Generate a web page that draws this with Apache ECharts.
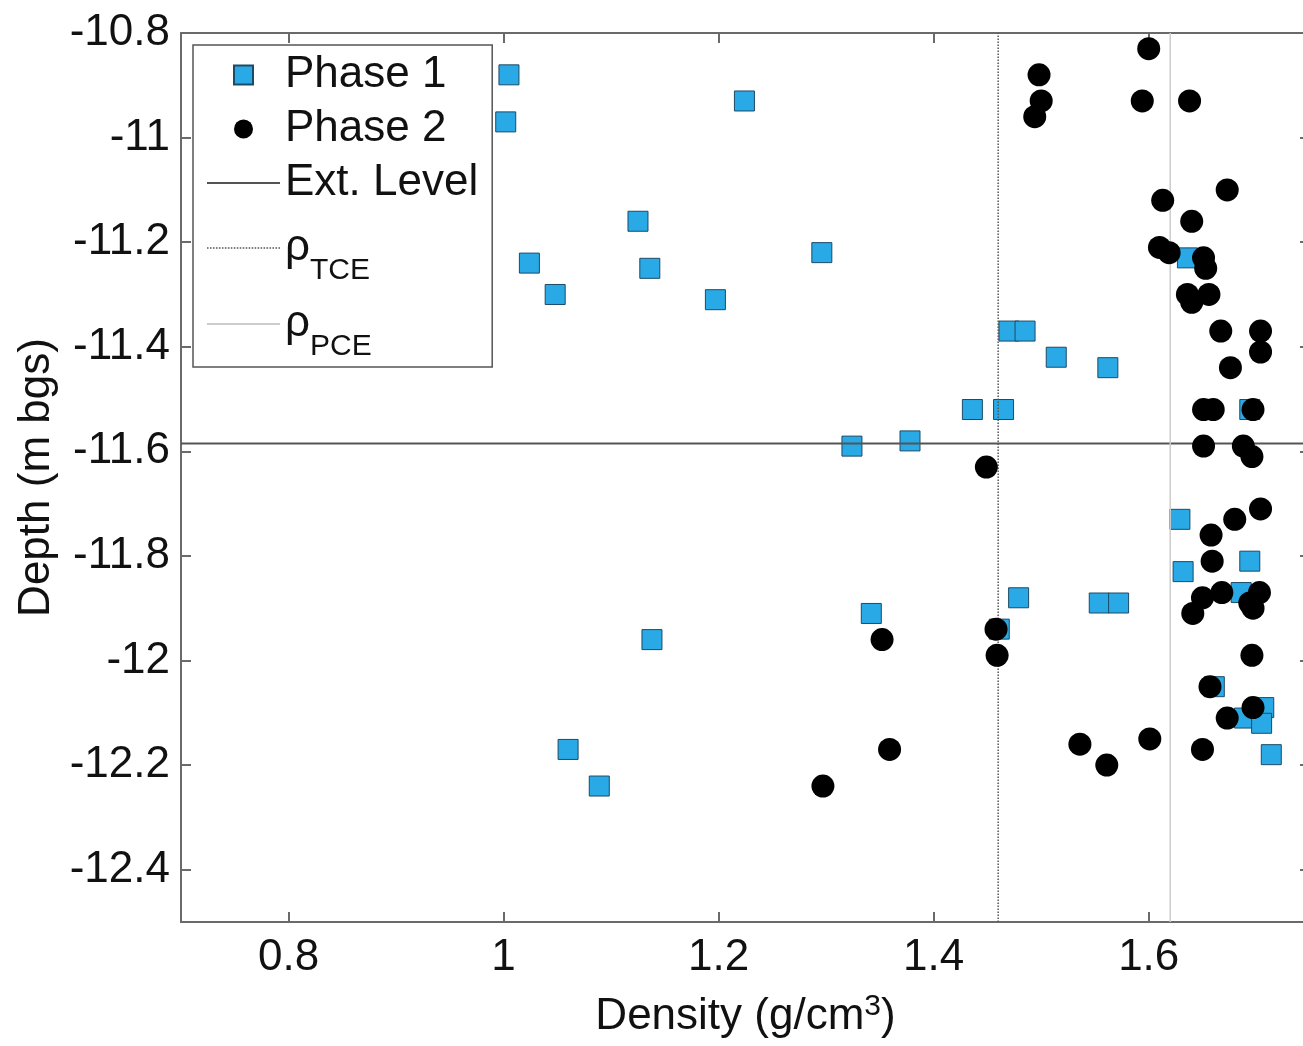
<!DOCTYPE html>
<html><head><meta charset="utf-8">
<script src="https://cdn.jsdelivr.net/npm/echarts@6/dist/echarts.min.js"></script>
<style>html,body{margin:0;padding:0;background:#fff}#c{width:1303px;height:1046px}</style>
</head><body><div id="c"></div>
<script>
// ---- data ----
const phase1 = [
  [1.005,-10.88],[1.002,-10.97],[1.224,-10.93],[1.125,-11.16],[1.024,-11.24],[1.136,-11.25],
  [1.048,-11.30],[1.296,-11.22],[1.197,-11.31],[1.636,-11.23],[1.470,-11.37],[1.485,-11.37],
  [1.514,-11.42],[1.562,-11.44],[1.436,-11.52],[1.465,-11.52],[1.694,-11.52],[1.324,-11.59],
  [1.378,-11.58],[1.629,-11.73],[1.632,-11.83],[1.694,-11.81],[1.686,-11.87],[1.479,-11.88],
  [1.554,-11.89],[1.572,-11.89],[1.342,-11.91],[1.138,-11.96],[1.461,-11.94],[1.661,-12.05],
  [1.689,-12.11],[1.707,-12.09],[1.705,-12.12],[1.714,-12.18],[1.060,-12.17],[1.089,-12.24]
];
const phase2 = [
  [1.600,-10.83],[1.594,-10.93],[1.638,-10.93],[1.498,-10.88],[1.500,-10.93],[1.494,-10.96],
  [1.673,-11.10],[1.613,-11.12],[1.640,-11.16],[1.610,-11.21],[1.619,-11.22],[1.651,-11.23],
  [1.653,-11.25],[1.636,-11.30],[1.640,-11.315],[1.656,-11.30],[1.667,-11.37],[1.704,-11.37],
  [1.704,-11.41],[1.676,-11.44],[1.651,-11.52],[1.660,-11.52],[1.697,-11.52],[1.651,-11.59],
  [1.688,-11.59],[1.696,-11.61],[1.449,-11.63],[1.704,-11.71],[1.680,-11.73],[1.658,-11.76],
  [1.659,-11.81],[1.650,-11.88],[1.668,-11.87],[1.641,-11.91],[1.703,-11.87],[1.694,-11.89],
  [1.697,-11.90],[1.696,-11.99],[1.657,-12.05],[1.673,-12.11],[1.697,-12.09],[1.601,-12.15],
  [1.561,-12.20],[1.536,-12.16],[1.650,-12.17],[1.352,-11.96],[1.458,-11.94],[1.459,-11.99],
  [1.359,-12.17],[1.297,-12.24]
];
const extLevel = -11.585;
const rhoTCE = 1.46;
const rhoPCE = 1.62;
const xRange = [0.7, 1.75];
const yRange = [-12.5, -10.8];
const xTicks = [0.8, 1, 1.2, 1.4, 1.6];
const yTicks = [-10.8, -11, -11.2, -11.4, -11.6, -11.8, -12, -12.2, -12.4];

// ---- chart ----
const FONT = '"Liberation Sans", Arial, Helvetica, sans-serif';
const AX = '#6a6a6a';
const chart = echarts.init(document.getElementById('c'), null, {renderer: 'canvas'});

// legend icon shapes
const ICON_SQUARE = 'path://M0,0H10V10H0Z';
const ICON_LINE = 'path://M0,0H73V2H0Z';
const ICON_LINE_THIN = 'path://M0,0H73V1.5H0Z';
let dots = '';
for (let i = 0; i < 73; i += 3) dots += 'M' + i + ',0H' + (i + 1.6) + 'V1.5H' + i + 'Z';
const ICON_DOTTED = 'path://' + dots;

function xAxisCfg(pos, labels) {
  return {
    type: 'value', position: pos, min: xRange[0], max: xRange[1],
    axisLine: {show: true, onZero: false, lineStyle: {color: AX, width: 2}},
    axisTick: {show: true, inside: true, length: 10, customValues: xTicks, lineStyle: {color: AX, width: 2}},
    axisLabel: {show: labels, customValues: xTicks, fontSize: 44, fontFamily: FONT, color: '#111', margin: 14},
    splitLine: {show: false}
  };
}
function yAxisCfg(pos, labels) {
  return {
    type: 'value', position: pos, min: yRange[0], max: yRange[1],
    axisLine: {show: true, onZero: false, lineStyle: {color: AX, width: 2}},
    axisTick: {show: true, inside: true, length: 10, customValues: yTicks, lineStyle: {color: AX, width: 2}},
    axisLabel: {show: labels, customValues: yTicks, fontSize: 44, fontFamily: FONT, color: '#111', margin: 11},
    splitLine: {show: false}
  };
}

const xb = xAxisCfg('bottom', true);
xb.name = 'Density (g/cm{s|3})';
xb.nameLocation = 'middle';
xb.nameGap = 70;
xb.nameTextStyle = {fontSize: 44, fontFamily: FONT, color: '#111', lineHeight: 50,
  rich: {s: {fontSize: 30, fontFamily: FONT, color: '#111', lineHeight: 22, verticalAlign: 'top'}}};
const xt = xAxisCfg('top', false);
const yl = yAxisCfg('left', true);
yl.name = 'Depth (m bgs)';
yl.nameLocation = 'middle';
yl.nameGap = 118;
yl.nameTextStyle = {fontSize: 44, fontFamily: FONT, color: '#111'};
const yr = yAxisCfg('right', false);

chart.setOption({
  animation: false,
  backgroundColor: '#fff',
  grid: {left: 181, top: 33, width: 1129, height: 889, containLabel: false, outerBoundsMode: 'none'},
  xAxis: [xb, xt],
  yAxis: [yl, yr],
  legend: {
    orient: 'vertical', left: 193, top: 45,
    padding: [3, 14, 5, 14], itemGap: 0, itemWidth: 73, itemHeight: 19,
    backgroundColor: '#fff', borderColor: '#555', borderWidth: 1.5,
    selectedMode: false, symbolKeepAspect: true,
    textStyle: {fontSize: 44, lineHeight: 54, fontFamily: FONT, color: '#111',
      rich: {
        r: {fontSize: 44, lineHeight: 76, fontFamily: FONT, color: '#111', verticalAlign: 'middle'},
        s: {fontSize: 30, lineHeight: 40, fontFamily: FONT, color: '#111', verticalAlign: 'bottom'}
      }},
    data: [
      {name: 'Phase 1', icon: ICON_SQUARE},
      {name: 'Phase 2', icon: 'circle'},
      {name: 'Ext. Level', icon: ICON_LINE},
      {name: 'ρTCE', icon: ICON_DOTTED},
      {name: 'ρPCE', icon: ICON_LINE_THIN}
    ],
    formatter: function (n) {
      if (n === 'ρTCE') return '{r|ρ}{s|TCE}';
      if (n === 'ρPCE') return '{r|ρ}{s|PCE}';
      return n;
    }
  },
  series: [
    {name: 'Phase 1', type: 'scatter', data: phase1, symbol: 'rect', symbolSize: 20, z: 2,
     itemStyle: {color: '#29aae6', borderColor: '#1d4a66', borderWidth: 1, opacity: 1}},
    {name: 'Ext. Level', type: 'line', data: [[xRange[0], extLevel], [xRange[1], extLevel]], symbol: 'none', z: 3,
     lineStyle: {color: '#555', width: 2}, itemStyle: {color: '#555'}},
    {name: 'ρTCE', type: 'line', data: [[rhoTCE, yRange[0]], [rhoTCE, yRange[1]]], symbol: 'none', z: 3,
     lineStyle: {color: '#555', width: 1.5, type: 'dotted'}, itemStyle: {color: '#555'}},
    {name: 'ρPCE', type: 'line', data: [[rhoPCE, yRange[0]], [rhoPCE, yRange[1]]], symbol: 'none', z: 3,
     lineStyle: {color: '#cccccc', width: 1.5}, itemStyle: {color: '#bbbbbb'}},
    {name: 'Phase 2', type: 'scatter', data: phase2, symbol: 'circle', symbolSize: 23, z: 5,
     itemStyle: {color: '#000', opacity: 1}}
  ]
});
</script>
</body></html>
